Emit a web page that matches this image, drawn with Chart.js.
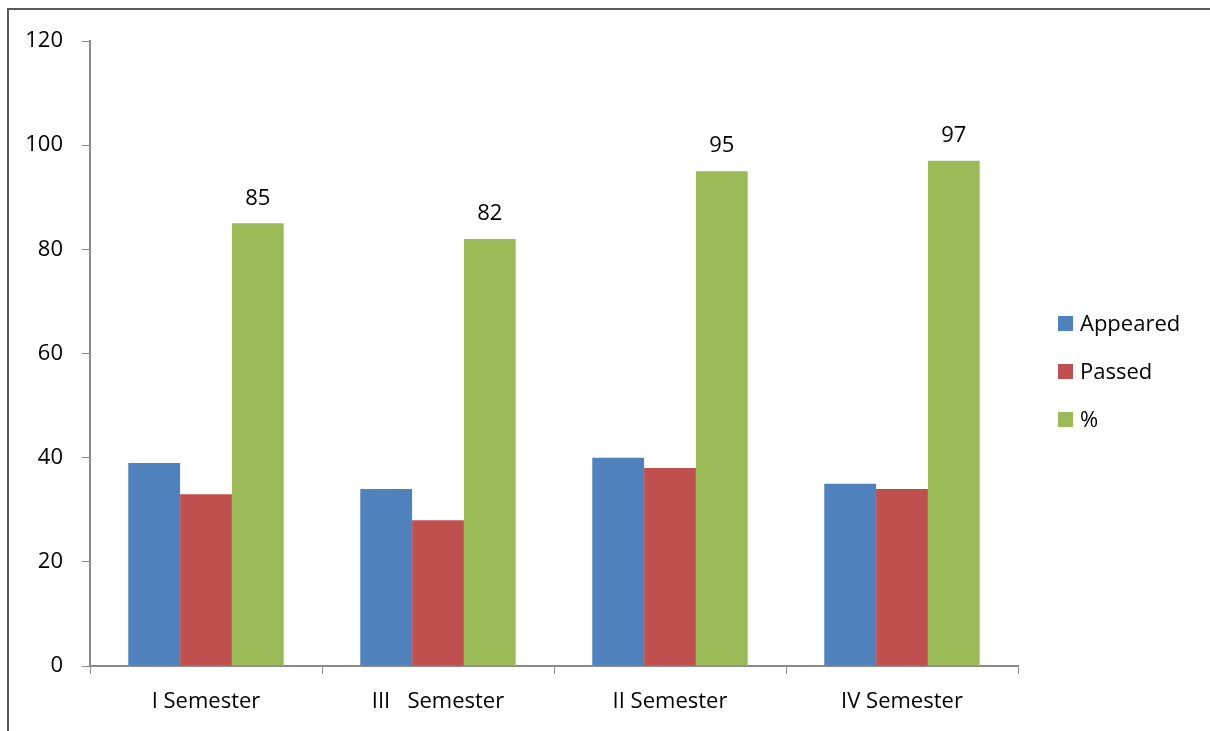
<!DOCTYPE html>
<html>
<head>
<meta charset="utf-8">
<script src="https://cdn.jsdelivr.net/npm/chart.js@4"></script>
<style>
    html, body { margin: 0; padding: 0; background: #fff; }
    #wrap { position: relative; width: 1210px; height: 731px; overflow: hidden; }
    #frame { position: absolute; left: 7px; top: 8px; width: 1300px; height: 800px;
             border-left: 2px solid #5a5a5a; border-top: 2px solid #5a5a5a; }
    canvas { position: absolute; left: 0; top: 0; }
</style>
</head>
<body>
<div id="wrap">
    <div id="frame"></div>
    <canvas id="chart" width="1210" height="731"></canvas>
</div>
<script>
// data
const semesters = ['I Semester', 'III   Semester', 'II Semester', 'IV Semester'];
const appeared = [39, 34, 40, 35];
const passed = [33, 28, 38, 34];
const percent = [85, 82, 95, 97];
const yTicks = [0, 20, 40, 60, 80, 100, 120];

const FONT = '"Open Sans", Calibri, Lato, sans-serif';
const FONT_SIZE = 22;
const AXIS_GREY = '#8a8a8a';

// ✅ Value labels above the % bars
const valueLabels = {
    id: 'valueLabels',
    afterDatasetsDraw(chart) {
        const ctx = chart.ctx;
        const meta = chart.getDatasetMeta(2);
        ctx.save();
        ctx.font = FONT_SIZE + 'px ' + FONT;
        ctx.fillStyle = '#000';
        ctx.textAlign = 'center';
        ctx.textBaseline = 'middle';
        meta.data.forEach((bar, i) => {
            ctx.fillText(percent[i], bar.x, bar.y - 25);
        });
        ctx.restore();
    }
};

// ✅ Legend drawn on the right, stacked
const sideLegend = {
    id: 'sideLegend',
    afterDraw(chart) {
        const ctx = chart.ctx;
        ctx.save();
        ctx.font = FONT_SIZE + 'px ' + FONT;
        ctx.textBaseline = 'middle';
        chart.data.datasets.forEach((ds, i) => {
            const y = 323 + i * 48;
            ctx.fillStyle = ds.backgroundColor;
            ctx.fillRect(1058, y - 7, 15, 15);
            ctx.fillStyle = '#000';
            ctx.fillText(ds.label, 1080, y + 2);
        });
        ctx.restore();
    }
};

new Chart(document.getElementById('chart'), {
    type: 'bar',
    data: {
        labels: semesters,
        datasets: [
            { label: 'Appeared', data: appeared, backgroundColor: '#4F81BD' },
            { label: 'Passed', data: passed, backgroundColor: '#C0504D' },
            { label: '%', data: percent, backgroundColor: '#9BBB59' }
        ]
    },
    options: {
        responsive: false,
        animation: false,
        layout: { padding: { left: 0, top: 41, right: 192, bottom: 0 } },
        datasets: { bar: { categoryPercentage: 0.67, barPercentage: 1.0 } },
        plugins: {
            legend: { display: false },
            tooltip: { enabled: false }
        },
        scales: {
            x: {
                grid: { drawOnChartArea: false, drawTicks: true, tickLength: 8, color: AXIS_GREY, offset: true },
                border: { color: AXIS_GREY, width: 2 },
                ticks: { color: '#000', font: { family: FONT, size: FONT_SIZE }, padding: 15 },
                afterFit(scale) { scale.height = 65; }
            },
            y: {
                min: 0,
                max: 120,
                afterBuildTicks(scale) { scale.ticks = yTicks.map(v => ({ value: v })); },
                grid: { drawOnChartArea: false, drawTicks: true, tickLength: 8, color: AXIS_GREY },
                border: { color: AXIS_GREY, width: 2 },
                ticks: { color: '#000', font: { family: FONT, size: FONT_SIZE }, padding: 19 },
                afterFit(scale) { scale.width = 90; }
            }
        }
    },
    plugins: [valueLabels, sideLegend]
});
</script>
</body>
</html>
